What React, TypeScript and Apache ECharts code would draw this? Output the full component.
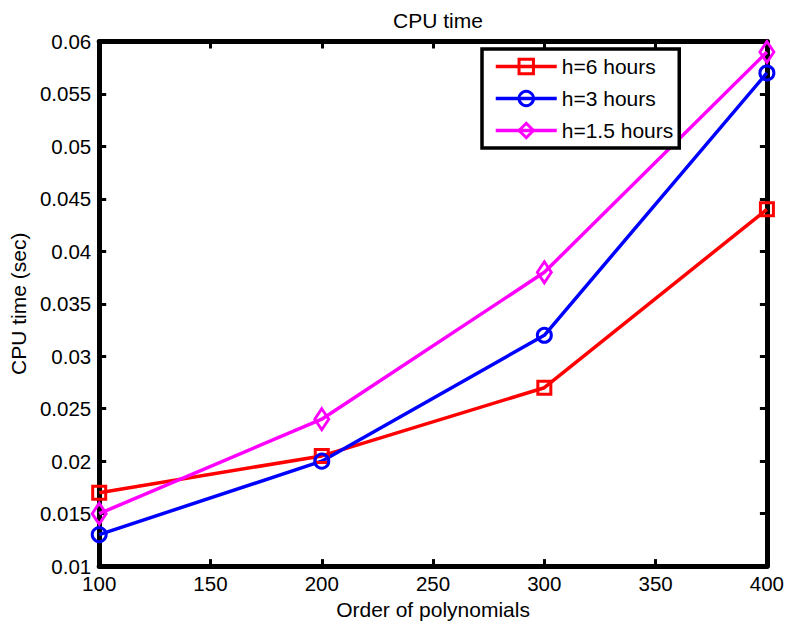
import React, { useEffect, useRef } from "react";
import * as echarts from "echarts";

const orders = [100, 200, 300, 400];
const h6 = [0.017, 0.0205, 0.027, 0.044];
const h3 = [0.013, 0.02, 0.032, 0.057];
const h15 = [0.015, 0.024, 0.038, 0.059];
const seriesNames = ["h=6 hours", "h=3 hours", "h=1.5 hours"];

const FONT = "'Liberation Sans', Arial, Helvetica, sans-serif";
const FS = 20.5;

export default function App() {
  const ref = useRef<HTMLDivElement>(null);
  useEffect(() => {
    if (!ref.current) return;
    const chart = echarts.init(ref.current, null, { renderer: "svg" });
    const fmt = (v: number) => parseFloat(v.toFixed(4)).toString();
    const axisCommon = {
      axisLine: { show: true, onZero: false, lineStyle: { color: "#000", width: 5 } },
      axisTick: { show: true, inside: true, length: 7, lineStyle: { color: "#000", width: 3 } },
      splitLine: { show: false },
    };
    const mk = (name: string, data: number[], color: string, symbol: string, size: any) => ({
      name,
      type: "line",
      data: orders.map((o, i) => [o, data[i]]),
      symbol,
      symbolSize: size,
      showSymbol: true,
      lineStyle: { color, width: 3.5 },
      itemStyle: { color: "rgba(0,0,0,0)", borderColor: color, borderWidth: 3 },
      emphasis: { disabled: true },
    });
    chart.setOption({
      animation: false,
      backgroundColor: "#fff",
      textStyle: { fontFamily: FONT },
      title: {
        text: "CPU time",
        left: 433,
        top: 5,
        textAlign: "center",
        textStyle: { fontSize: 21, fontWeight: "normal", color: "#000", fontFamily: FONT },
      },
      grid: { left: 99, right: 18.5, top: 41.5, bottom: 56, containLabel: false },
      legend: {
        data: seriesNames,
        orient: "vertical",
        left: 482,
        top: 49,
        itemWidth: 61,
        itemHeight: 18,
        itemGap: 11,
        padding: [7, 6, 7, 12],
        borderColor: "#000",
        borderWidth: 3.5,
        backgroundColor: "#fff",
        lineStyle: { width: 3.5 },
        itemStyle: { borderWidth: 3 },
        textStyle: { fontSize: 21, color: "#000", fontFamily: FONT },
      },
      xAxis: [
        {
          type: "value",
          min: 100,
          max: 400,
          interval: 50,
          name: "Order of polynomials",
          nameLocation: "middle",
          nameGap: 31,
          nameTextStyle: { fontSize: 21, color: "#000", fontFamily: FONT },
          axisLabel: { fontSize: FS, color: "#000", margin: 7, fontFamily: FONT },
          ...axisCommon,
        },
        {
          type: "value",
          position: "top",
          min: 100,
          max: 400,
          interval: 50,
          axisLabel: { show: false },
          ...axisCommon,
        },
      ],
      yAxis: [
        {
          type: "value",
          min: 0.01,
          max: 0.06,
          interval: 0.005,
          name: "CPU time (sec)",
          nameLocation: "middle",
          nameGap: 67,
          nameTextStyle: { fontSize: 21, color: "#000", fontFamily: FONT },
          axisLabel: { fontSize: FS, color: "#000", margin: 8, fontFamily: FONT, formatter: fmt },
          ...axisCommon,
        },
        {
          type: "value",
          position: "right",
          min: 0.01,
          max: 0.06,
          interval: 0.005,
          axisLabel: { show: false },
          ...axisCommon,
        },
      ],
      series: [
        mk(seriesNames[0], h6, "#ff0000", "rect", 13),
        mk(seriesNames[1], h3, "#0000ff", "circle", 14),
        mk(seriesNames[2], h15, "#ff00ff", "diamond", [14, 21]),
      ],
    });
    return () => chart.dispose();
  }, []);
  return <div ref={ref} style={{ width: 787, height: 625, position: "absolute", left: 0, top: 0 }} />;
}
